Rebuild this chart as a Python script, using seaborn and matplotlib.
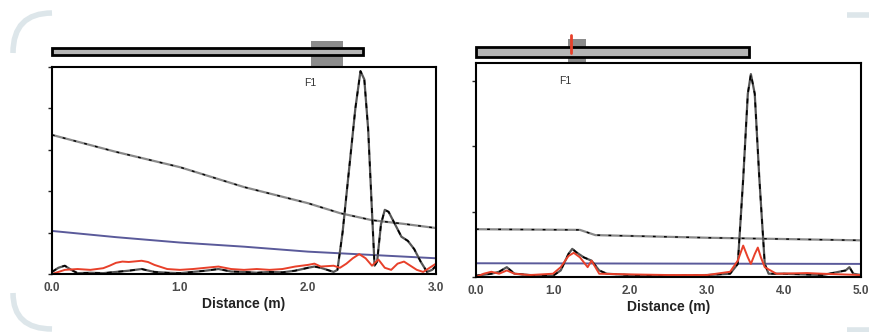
import matplotlib
matplotlib.use("Agg")
import matplotlib.pyplot as plt
import seaborn as sns
from matplotlib.patches import Rectangle, PathPatch
from matplotlib.path import Path

sns.set_style("white")
plt.rcParams['font.family'] = ['Liberation Sans', 'DejaVu Sans']

# ---- left panel (0 - 3 m) ----
left_ref_x = [0.0, 0.5, 1.0, 1.5, 2.0, 2.25, 2.5, 2.75, 3.0]
left_ref_y = [3.36, 2.95, 2.58, 2.10, 1.71, 1.47, 1.30, 1.21, 1.11]
left_blue_x = [0.0, 0.5, 1.0, 1.5, 2.0, 2.5, 3.0]
left_blue_y = [1.04, 0.89, 0.76, 0.66, 0.54, 0.46, 0.38]
left_black_x = [0.0, 0.05, 0.1, 0.15, 0.2, 0.3, 0.4, 0.5, 0.6, 0.7, 0.8, 0.9, 1.0,
                1.1, 1.2, 1.3, 1.4, 1.5, 1.6, 1.7, 1.8, 1.9, 2.0, 2.05, 2.1, 2.15,
                2.2, 2.23, 2.27, 2.32, 2.37, 2.41, 2.44, 2.47, 2.5, 2.52, 2.54, 2.57,
                2.6, 2.63, 2.68, 2.73, 2.78, 2.83, 2.88, 2.93, 2.97, 3.0]
left_black_y = [0.05, 0.15, 0.2, 0.1, 0.02, 0.03, 0.02, 0.05, 0.08, 0.12, 0.05, 0.03, 0.02,
                0.05, 0.08, 0.12, 0.06, 0.05, 0.03, 0.05, 0.04, 0.08, 0.15, 0.18, 0.15, 0.1,
                0.05, 0.1, 1.0, 2.5, 4.0, 4.9, 4.7, 3.5, 1.5, 0.2, 0.3, 1.2,
                1.55, 1.5, 1.2, 0.9, 0.8, 0.6, 0.3, 0.05, 0.1, 0.2]
left_red_x = [0.0, 0.05, 0.1, 0.2, 0.3, 0.4, 0.45, 0.5, 0.55, 0.6, 0.7, 0.75, 0.8, 0.9,
              1.0, 1.1, 1.2, 1.3, 1.4, 1.5, 1.6, 1.7, 1.8, 1.9, 2.0, 2.05, 2.1, 2.2,
              2.25, 2.3, 2.35, 2.4, 2.45, 2.5, 2.55, 2.6, 2.65, 2.7, 2.75, 2.8, 2.85,
              2.9, 2.95, 3.0]
left_red_y = [0.0, 0.05, 0.1, 0.12, 0.1, 0.14, 0.2, 0.27, 0.3, 0.29, 0.32, 0.29, 0.22, 0.12,
              0.1, 0.12, 0.15, 0.18, 0.12, 0.1, 0.12, 0.1, 0.12, 0.18, 0.22, 0.25, 0.18, 0.2,
              0.15, 0.25, 0.38, 0.48, 0.38, 0.2, 0.35, 0.15, 0.1, 0.25, 0.3, 0.2, 0.1,
              0.05, 0.15, 0.25]

# ---- right panel (0 - 5 m) ----
right_ref_x = [0.0, 1.35, 1.45, 1.55, 3.0, 5.0]
right_ref_y = [0.73, 0.72, 0.68, 0.64, 0.60, 0.56]
right_blue_x = [0.0, 5.0]
right_blue_y = [0.21, 0.20]
right_black_x = [0.0, 0.2, 0.3, 0.4, 0.5, 0.7, 1.0, 1.1, 1.2, 1.25, 1.3, 1.4, 1.5, 1.6,
                 1.7, 2.0, 2.5, 3.0, 3.3, 3.4, 3.47, 3.53, 3.57, 3.62, 3.68, 3.75, 3.8,
                 4.0, 4.5, 4.8, 4.85, 4.9, 5.0]
right_black_y = [0.02, 0.05, 0.08, 0.15, 0.05, 0.03, 0.02, 0.1, 0.35, 0.43, 0.38, 0.3, 0.25, 0.1,
                 0.05, 0.03, 0.02, 0.03, 0.05, 0.2, 1.5, 2.8, 3.1, 2.8, 1.5, 0.2, 0.05,
                 0.05, 0.03, 0.1, 0.15, 0.05, 0.03]
right_red_x = [0.0, 0.1, 0.2, 0.3, 0.4, 0.5, 0.7, 1.0, 1.1, 1.2, 1.27, 1.35, 1.45, 1.5, 1.55,
               1.6, 2.0, 2.5, 3.0, 3.3, 3.4, 3.47, 3.53, 3.57, 3.62, 3.66, 3.7, 3.75, 3.9,
               4.3, 4.5, 5.0]
right_red_y = [0.0, 0.05, 0.08, 0.05, 0.1, 0.05, 0.03, 0.05, 0.15, 0.32, 0.37, 0.3, 0.15, 0.25, 0.15,
               0.05, 0.04, 0.03, 0.03, 0.08, 0.25, 0.48, 0.3, 0.2, 0.35, 0.45, 0.3, 0.15, 0.05,
               0.06, 0.05, 0.03]

W, H = 869, 332
fig = plt.figure(figsize=(W / 100, H / 100), dpi=100)


def px_axes(x0, y0, x1, y1):
    return fig.add_axes([x0 / W, 1 - y1 / H, (x1 - x0) / W, (y1 - y0) / H])


def draw_traces(ax, rx, ry, bx, by, kx, ky, qx, qy):
    sns.lineplot(x=rx, y=ry, ax=ax, color='#8a8a8a', lw=1.6, sort=False)
    sns.lineplot(x=rx, y=ry, ax=ax, color='black', lw=1.0, sort=False)
    ax.lines[-1].set_dashes([2, 6])
    sns.lineplot(x=bx, y=by, ax=ax, color='#5a5a9a', lw=1.4, sort=False)
    sns.lineplot(x=kx, y=ky, ax=ax, color='#555555', lw=1.6, sort=False)
    sns.lineplot(x=kx, y=ky, ax=ax, color='black', lw=1.2, sort=False)
    ax.lines[-1].set_dashes([3, 4])
    sns.lineplot(x=qx, y=qy, ax=ax, color='#e8402a', lw=1.4, sort=False)


def style_axes(ax, xmax, xstep, ymax, yticks):
    ax.set_xlim(0, xmax)
    ax.set_ylim(0, ymax)
    xt = [i * xstep for i in range(int(round(xmax / xstep)) + 1)]
    ax.set_xticks(xt)
    ax.set_xticklabels(['%.1f' % v for v in xt], fontsize=8.5, fontweight='bold',
                       color='#4a4a4a')
    ax.set_yticks(yticks)
    ax.set_yticklabels([])
    ax.tick_params(axis='x', direction='in', length=4, width=1.2, pad=6)
    ax.tick_params(axis='y', direction='out', length=3, width=1.0, left=True)
    for s in ax.spines.values():
        s.set_linewidth(1.5)
        s.set_color('black')
    ax.set_xlabel('Distance (m)', fontsize=10, fontweight='bold', color='#222222', labelpad=2)
    ax.set_ylabel('')


ax1 = px_axes(52, 67, 436, 274)
draw_traces(ax1, left_ref_x, left_ref_y, left_blue_x, left_blue_y,
            left_black_x, left_black_y, left_red_x, left_red_y)
style_axes(ax1, 3.0, 1.0, 5.0, [0, 1, 2, 3, 4, 5])

ax2 = px_axes(476, 63, 861, 277)
draw_traces(ax2, right_ref_x, right_ref_y, right_blue_x, right_blue_y,
            right_black_x, right_black_y, right_red_x, right_red_y)
style_axes(ax2, 5.0, 1.0, 3.27, [0, 1, 2, 3])

# cable sketches above each panel
ax1.add_patch(Rectangle((2.02, 5.0), 0.25, 0.63, facecolor='#8c8c8c', edgecolor='none',
                        clip_on=False, zorder=1))
ax1.add_patch(Rectangle((0.0, 5.28), 2.43, 0.18, facecolor='#b5b5b5', edgecolor='black',
                        lw=2.0, clip_on=False, zorder=2))
ax1.text(2.02, 4.62, 'F1', fontsize=7.5, color='#333333', ha='center', va='center')

ax2.add_patch(Rectangle((1.19, 3.27), 0.24, 0.36, facecolor='#8c8c8c', edgecolor='none',
                        clip_on=False, zorder=1))
ax2.add_patch(Rectangle((0.0, 3.36), 3.55, 0.16, facecolor='#b5b5b5', edgecolor='black',
                        lw=2.0, clip_on=False, zorder=2))
ax2.plot([1.23, 1.23], [3.42, 3.70], color='#e8402a', lw=2.0, clip_on=False, zorder=3)
ax2.text(1.16, 3.0, 'F1', fontsize=7.5, color='#333333', ha='center', va='center')


# decorative bracket corners
def fig_path(points, codes):
    verts = [(x / W, 1 - y / H) for x, y in points]
    patch = PathPatch(Path(verts, codes), transform=fig.transFigure, fill=False,
                      edgecolor='#dde6ea', lw=4, capstyle='butt')
    fig.add_artist(patch)


fig_path([(13, 53), (13, 13), (52, 13)], [Path.MOVETO, Path.CURVE3, Path.CURVE3])
fig_path([(13, 293), (13, 329), (52, 329)], [Path.MOVETO, Path.CURVE3, Path.CURVE3])
fig_path([(847, 15), (869, 15)], [Path.MOVETO, Path.LINETO])
fig_path([(847, 330), (869, 330)], [Path.MOVETO, Path.LINETO])

fig.savefig('out.png', dpi=100)
